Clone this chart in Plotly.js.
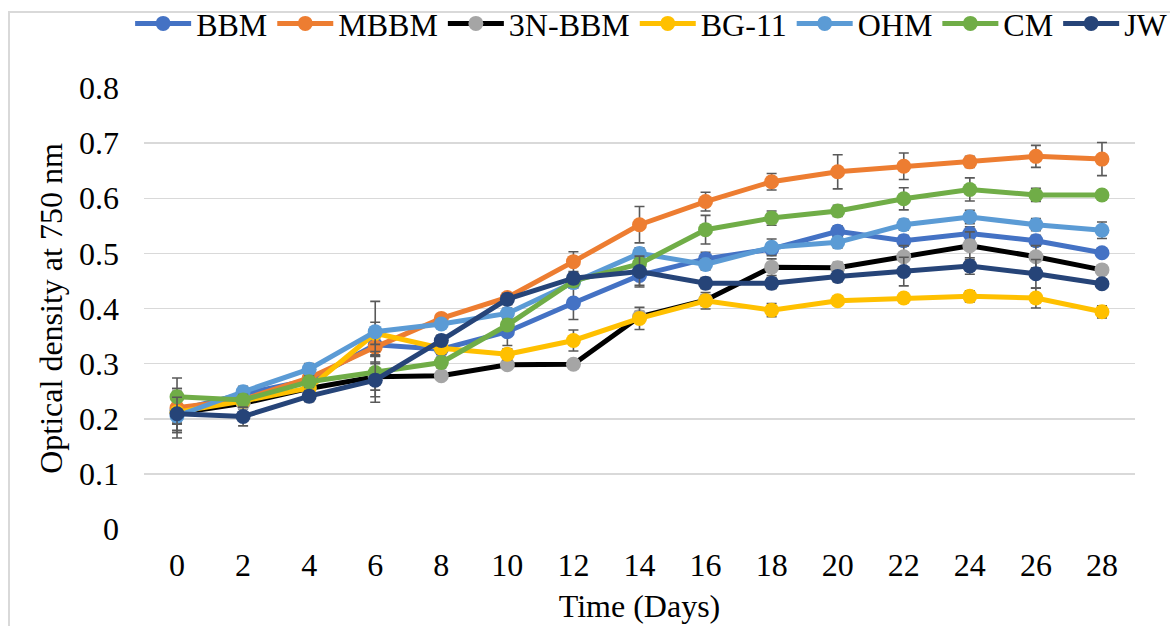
<!DOCTYPE html>
<html>
<head>
<meta charset="utf-8">
<script src="https://cdn.plot.ly/plotly-3.0.1.min.js"></script>
<style>
html,body{margin:0;padding:0;background:#fff;overflow:hidden;}
#chart{position:absolute;left:0;top:0;width:1170px;height:626px;}
#frame{position:absolute;left:8px;top:11px;width:1300px;height:800px;border:2px solid #d9d9d9;pointer-events:none;}
</style>
</head>
<body>
<div id="chart"></div>
<div id="frame"></div>
<script>
const days = [0,2,4,6,8,10,12,14,16,18,20,22,24,26,28];
const seriesNames = ["BBM","MBBM","3N-BBM","BG-11","OHM","CM","JW"];

const BBM  = [0.215,0.245,0.270,0.334,0.326,0.358,0.410,0.460,0.490,0.508,0.540,0.523,0.536,0.523,0.501];
const MBBM = [0.220,0.235,0.274,0.330,0.382,0.420,0.485,0.552,0.594,0.630,0.648,0.658,0.666,0.676,0.671];
const N3BBM= [0.210,0.228,0.255,0.276,0.278,0.298,0.299,0.385,0.415,0.475,0.474,0.494,0.514,0.494,0.470];
const BG11 = [0.212,0.232,0.256,0.355,0.328,0.317,0.342,0.382,0.414,0.397,0.414,0.419,0.422,0.419,0.394];
const OHM  = [0.205,0.249,0.290,0.358,0.372,0.391,0.447,0.500,0.480,0.511,0.520,0.552,0.566,0.552,0.542];
const CM   = [0.240,0.234,0.267,0.284,0.302,0.370,0.450,0.481,0.543,0.564,0.577,0.599,0.616,0.606,0.606];
const JW   = [0.209,0.204,0.241,0.270,0.342,0.417,0.455,0.467,0.446,0.446,0.458,0.467,0.477,0.463,0.445];

const BBM_err  = [0.040,0.010,0.010,0.020,0.010,0.025,0.030,0.018,0.012,0.010,0.010,0.010,0.012,0.010,0.008];
const MBBM_err = [0.030,0.010,0.010,0.017,0.008,0.008,0.018,0.033,0.017,0.015,0.031,0.024,0.010,0.020,0.030];
const N3BBM_err= [0.045,0.010,0.010,0.046,0.005,0.005,0.005,0.010,0.010,0.015,0.010,0.020,0.025,0.020,0.008];
const BG11_err = [0.020,0.010,0.010,0.020,0.010,0.010,0.019,0.020,0.015,0.012,0.008,0.008,0.010,0.018,0.011];
const OHM_err  = [0.030,0.010,0.010,0.055,0.008,0.010,0.010,0.010,0.010,0.015,0.010,0.010,0.012,0.011,0.015];
const CM_err   = [0.034,0.010,0.010,0.032,0.010,0.010,0.010,0.010,0.026,0.013,0.010,0.020,0.021,0.012,0.008];
const JW_err   = [0.030,0.017,0.010,0.030,0.010,0.010,0.010,0.028,0.010,0.010,0.010,0.026,0.015,0.026,0.008];

const values = [BBM, MBBM, N3BBM, BG11, OHM, CM, JW];
const errors = [BBM_err, MBBM_err, N3BBM_err, BG11_err, OHM_err, CM_err, JW_err];
const lineColors   = ["#4472C4","#ED7D31","#000000","#FFC000","#5B9BD5","#70AD47","#264478"];
const markerColors = ["#4472C4","#ED7D31","#A5A5A5","#FFC000","#5B9BD5","#70AD47","#264478"];

const font = "Liberation Serif, Times New Roman, serif";

const traces = seriesNames.map((n,i)=>({
  type:"scatter", mode:"lines+markers", name:n,
  x: days, y: values[i],
  line:{color:lineColors[i], width:5},
  marker:{color:markerColors[i], size:15},
  error_y:{type:"data", array:errors[i], visible:true, color:"#595959", thickness:1.6, width:5}
}));

const layout = {
  width:1170, height:626,
  margin:{l:144, r:35, t:88, b:97, autoexpand:false},
  paper_bgcolor:"rgba(0,0,0,0)", plot_bgcolor:"rgba(0,0,0,0)",
  font:{family:font, color:"#000", size:32},
  showlegend:true,
  legend:{orientation:"h", x:-0.014, xanchor:"left", y:1.146, yanchor:"middle",
          font:{family:font, size:32, color:"#000"}, itemwidth:56, bgcolor:"rgba(0,0,0,0)", traceorder:"normal"},
  xaxis:{range:[-1,29], tickvals:days, ticktext:days.map(String), showgrid:false, zeroline:false,
         showline:false, ticks:"", ticklabelstandoff:14, tickfont:{family:font, size:32, color:"#000"},
         title:{text:"Time (Days)", font:{family:font, size:32, color:"#000"}, standoff:12}},
  yaxis:{range:[0,0.8], dtick:0.1, tick0:0, showgrid:true, gridcolor:"#d9d9d9", gridwidth:1.5,
         zeroline:false, showline:false, ticks:"", ticklabelstandoff:24,
         tickfont:{family:font, size:32, color:"#000"},
         title:{text:"Optical density at 750 nm", font:{family:font, size:32, color:"#000"}, standoff:6}}
};

Plotly.newPlot("chart", traces, layout, {displayModeBar:false, staticPlot:true});
</script>
</body>
</html>
